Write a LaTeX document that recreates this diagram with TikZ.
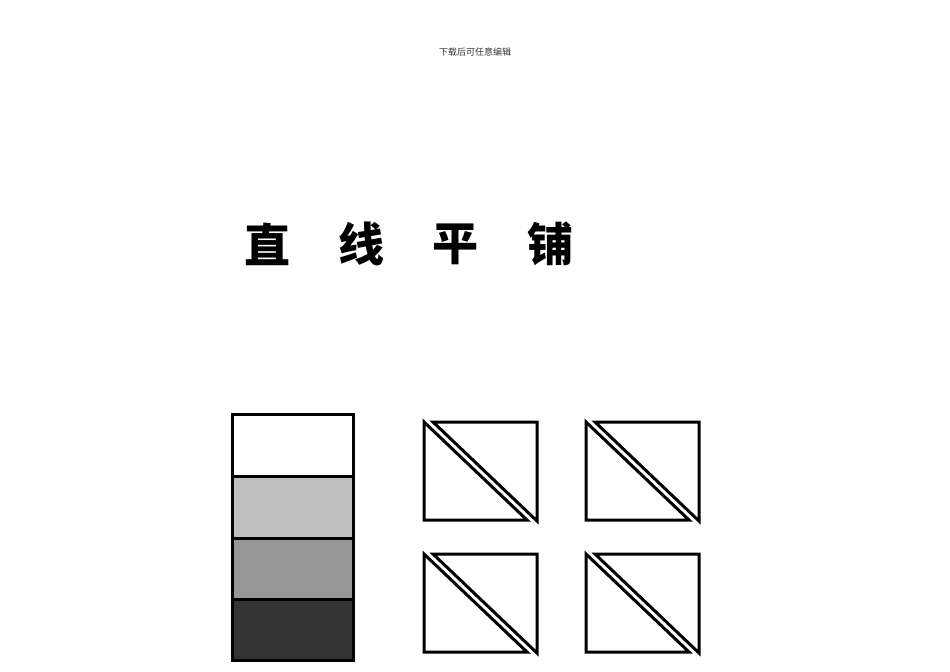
\documentclass[tikz,border=0pt]{standalone}
\usepackage{fontspec}
\newfontfamily\cjk{Noto Sans CJK SC}
\usetikzlibrary{positioning}

\tikzset{
    tilebox/.style = {line width=3bp, line join=miter, miter limit=4},
    band/.style = {line width=3bp, draw=black},
    titlechar/.style = {font=\cjk\bfseries\fontsize{46bp}{46bp}\selectfont, inner sep=0pt}
}

\begin{document}
\begin{tikzpicture}[x=1bp,y=-1bp]

    \useasboundingbox (0,0) rectangle (950,672);

    % small note on top
    \node (note) at (475,52) [font=\cjk\fontsize{9bp}{9bp}\selectfont, text=black!80]{下载后可任意编辑};

    % title
    \node (t1) at (267,244) [titlechar]{直};
    \node (t2) at (361,244) [titlechar]{线};
    \node (t3) at (455,244) [titlechar]{平};
    \node (t4) at (550,244) [titlechar]{铺};

    % stacked bands
    \draw[band, fill=white]       (232,414) rectangle (353,476);
    \draw[band, fill=black!25]    (232,476) rectangle (353,538);
    \draw[band, fill=black!41]    (232,538) rectangle (353,599);
    \draw[band, fill=black!80]    (232,599) rectangle (353,660);

    % split tiles
    \foreach \x/\y in {424/422, 586/422, 424/554, 586/554}
    {
        \begin{scope}[shift={(\x,\y)}]
            \draw[tilebox] (0,0) -- (0,98) -- (103,98) -- cycle;
            \draw[tilebox] (9,0) -- (113,0) -- (113,99) -- cycle;
        \end{scope}
    }

\end{tikzpicture}
\end{document}
